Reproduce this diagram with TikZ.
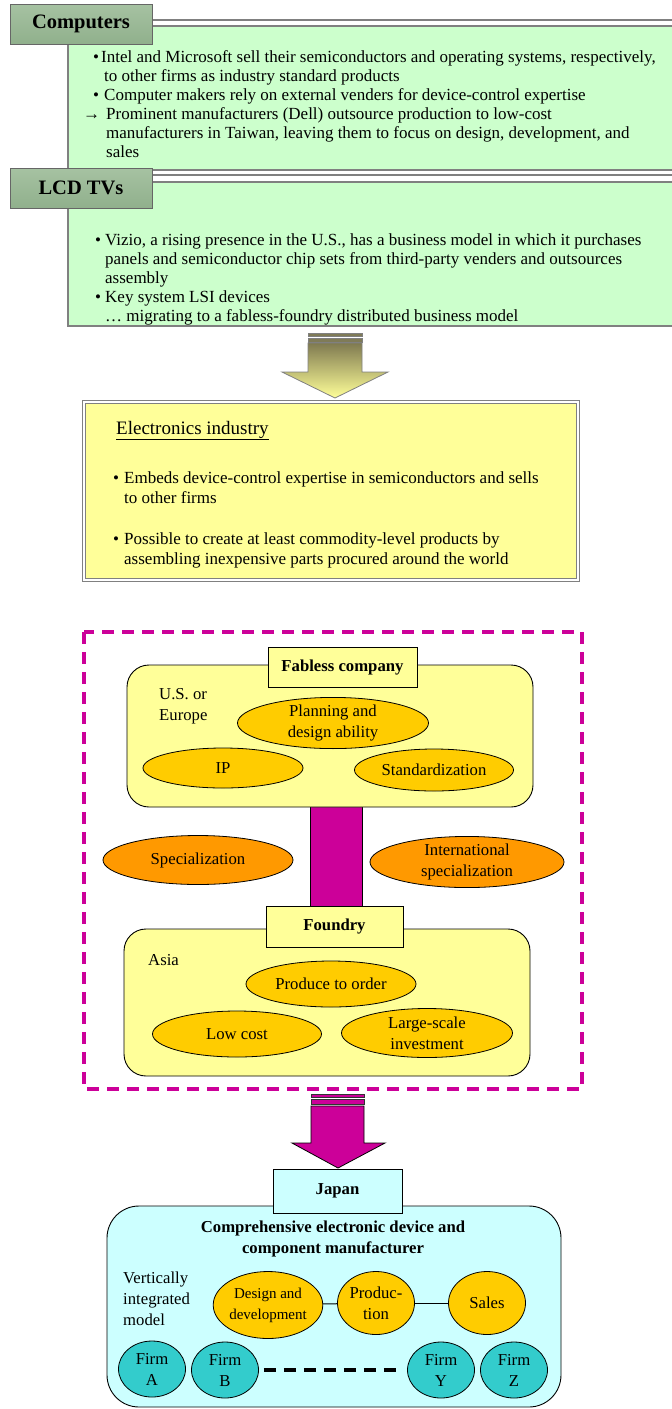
\documentclass[tikz,border=0pt]{standalone}
\usepackage{fontspec}
\setmainfont{Liberation Serif}
\usetikzlibrary{shapes.geometric}
\definecolor{boxgreen}{HTML}{CCFFCC}
\definecolor{lyellow}{HTML}{FFFF99}
\definecolor{gold}{HTML}{FFCC00}
\definecolor{orng}{HTML}{FF9900}
\definecolor{mag}{HTML}{CC0099}
\definecolor{lcyan}{HTML}{CCFFFF}
\definecolor{tealc}{HTML}{33CCCC}
\definecolor{olivec}{HTML}{7F7A50}
\definecolor{hdrtop}{HTML}{A6C2A2}
\definecolor{hdrmid}{HTML}{E0FCD8}
\definecolor{hdrbot}{HTML}{90B08C}
\newcommand{\tl}[1]{\begin{tabular}[t]{@{}l@{}}#1\end{tabular}}
\begin{document}
\begin{tikzpicture}[x=1pt,y=-1pt,
  txt/.style={anchor=base west, inner sep=0pt, font=\fontsize{17}{19}\selectfont},
  etxt/.style={anchor=base west, inner sep=0pt, font=\fontsize{17}{20.5}\selectfont},
  ptxt/.style={anchor=base west, inner sep=0pt, font=\fontsize{16.7}{21}\selectfont},
  hdrtxt/.style={inner sep=0pt, font=\bfseries\fontsize{20.5}{24}\selectfont},
  hdrshade/.style={top color=hdrtop, middle color=hdrmid, bottom color=hdrbot, draw=gray!80!black, line width=0.8pt},
  boxborder/.style={draw=gray, line width=1.2pt},
  ell/.style={ellipse, draw=black, line width=0.8pt, inner sep=0pt, align=center, font=\fontsize{16.7}{21}\selectfont},
  lbl/.style={rectangle, draw=black, line width=0.9pt, inner sep=0pt, font=\bfseries\fontsize{16.7}{21}\selectfont},
  rbox/.style={draw=black, line width=0.9pt, rounded corners=22pt},
]
\useasboundingbox (0,0) rectangle (672,1409);
\fill[white] (0,0) rectangle (672,1409);

% ---------- Computers ----------
\draw[boxborder, fill=boxgreen] (68,20) rectangle (673,170);
\draw[boxborder, fill=white] (152,20) rectangle (673,26);
\shadedraw[hdrshade] (10,4) rectangle (152,44);
\node[hdrtxt] (hcomp) at (81,24) {Computers};
\node[txt] (c1b) at (93,62) {•};
\node[txt] (c1) at (101,62) {\tl{Intel and Microsoft sell their semiconductors and operating systems, respectively,\\\hspace{3pt}to other firms as industry standard products}};
\node[txt] (c2b) at (93,100) {•};
\node[txt] (c2) at (104,100) {Computer makers rely on external venders for device-control expertise};
\node[txt, font=\bfseries\fontsize{17}{19}\selectfont] (c3b) at (83,119) {→};
\node[txt] (c3) at (106,119) {\tl{Prominent manufacturers (Dell) outsource production to low-cost\\manufacturers in Taiwan, leaving them to focus on design, development, and\\sales}};

% ---------- LCD TVs ----------
\draw[boxborder, fill=boxgreen] (68,175) rectangle (673,326);
\draw[boxborder, fill=white] (152,175) rectangle (673,182);
\shadedraw[hdrshade] (10,168) rectangle (152,208);
\node[hdrtxt] (hlcd) at (81,188) {LCD TVs};
\node[txt] (l1b) at (95,245) {•};
\node[txt] (l1) at (105,245) {\tl{Vizio, a rising presence in the U.S., has a business model in which it purchases\\panels and semiconductor chip sets from third-party venders and outsources\\assembly}};
\node[txt] (l2b) at (95,302) {•};
\node[txt] (l2) at (105,302) {\tl{Key system LSI devices\\… migrating to a fabless-foundry distributed business model}};

% ---------- yellow block arrow ----------
\fill[olivec!85!gray, draw=gray] (308,333) rectangle (362,336);
\fill[olivec!85!gray, draw=gray] (308,338) rectangle (362,342);
\shadedraw[top color=olivec, bottom color=lyellow, draw=gray, line width=0.8pt]
  (308,343) -- (362,343) -- (362,372) -- (388,372) -- (335,398) -- (282,372) -- (308,372) -- cycle;

% ---------- Electronics industry ----------
\draw[draw=gray, line width=0.8pt, double=white, double distance=1.5pt, fill=lyellow] (84,402) rectangle (578,580);
\node[txt, font=\fontsize{19}{22}\selectfont] (eti) at (116,434) {\underline{Electronics industry}};
\node[etxt] (e1b) at (113,483) {•};
\node[etxt] (e1) at (124,483) {\tl{Embeds device-control expertise in semiconductors and sells\\to other firms}};
\node[etxt] (e2b) at (113,544) {•};
\node[etxt] (e2) at (124,544) {\tl{Possible to create at least commodity-level products by\\assembling inexpensive parts procured around the world}};

% ---------- Fabless / Foundry ----------
\draw[mag, line width=4pt, dash pattern=on 12pt off 8pt] (84,632) rectangle (582,1089);
\draw[fill=mag, draw=black, line width=0.8pt] (310,800) rectangle (362,912);
\draw[rbox, fill=lyellow] (127,665) rectangle (533,807);
\node[lbl, fill=lyellow, minimum width=149pt, minimum height=40pt] (fab) at (342.5,667) {Fabless company};
\node[ptxt] (use) at (159,699) {\tl{U.S. or\\Europe}};
\node[ell, fill=gold, minimum width=191pt, minimum height=50pt] (plan) at (333,723) {Planning and\\design ability};
\node[ell, fill=gold, minimum width=160pt, minimum height=40pt] (ip) at (223,768) {IP};
\node[ell, fill=gold, minimum width=159pt, minimum height=42pt] (std) at (434,770) {Standardization};

\node[ell, fill=orng, minimum width=190pt, minimum height=49pt] (spec) at (198,860) {Specialization};
\node[ell, fill=orng, minimum width=194pt, minimum height=50pt] (ispec) at (467,862) {International\\specialization};

\draw[rbox, fill=lyellow] (124,929) rectangle (530,1076);
\node[lbl, fill=lyellow, minimum width=137pt, minimum height=41pt] (fdy) at (334.5,926.5) {Foundry};
\node[ptxt] (asia) at (148,965) {Asia};
\node[ell, fill=gold, minimum width=170pt, minimum height=46pt] (pto) at (331,984) {Produce to order};
\node[ell, fill=gold, minimum width=169pt, minimum height=46pt] (low) at (237,1034) {Low cost};
\node[ell, fill=gold, minimum width=171pt, minimum height=49pt] (lsi) at (427,1033) {Large-scale\\investment};

% ---------- magenta block arrow ----------
\draw[fill=mag, draw=black!80, line width=0.8pt] (311,1094) rectangle (364,1097);
\draw[fill=mag, draw=black!80, line width=0.8pt] (311,1099) rectangle (364,1104);
\draw[fill=mag, draw=black, line width=0.8pt]
  (311,1106) -- (364,1106) -- (364,1143) -- (385,1143) -- (338,1168) -- (292,1143) -- (311,1143) -- cycle;

% ---------- Japan ----------
\draw[rbox, rounded corners=32pt, fill=lcyan] (107,1206) rectangle (561,1407);
\node[lbl, fill=lcyan, minimum width=129pt, minimum height=44pt] (jp) at (337.5,1191) {Japan};
\node[inner sep=0pt, align=center, font=\bfseries\fontsize{16.7}{21}\selectfont] (cedc) at (333,1238.5) {Comprehensive electronic device and\\component manufacturer};
\node[ptxt] (vim) at (123,1283) {\tl{Vertically\\integrated\\model}};
\node[ell, fill=gold, minimum width=81pt, minimum height=67pt, font=\fontsize{15}{21}\selectfont] (dd) at (268,1305) {Design and\\development};
\node[ell, fill=gold, minimum width=77pt, minimum height=63pt] (pr) at (376,1303) {Produc-\\tion};
\node[ell, fill=gold, minimum width=77pt, minimum height=63pt] (sa) at (487,1303) {Sales};
\draw[line width=1pt] (dd) -- (pr);
\draw[line width=1pt] (pr) -- (sa);
\node[ell, fill=tealc, minimum width=67pt, minimum height=56pt] (fa) at (152,1369) {Firm\\A};
\node[ell, fill=tealc, minimum width=67pt, minimum height=56pt] (fb) at (225,1370) {Firm\\B};
\node[ell, fill=tealc, minimum width=67pt, minimum height=56pt] (fy) at (441,1370) {Firm\\Y};
\node[ell, fill=tealc, minimum width=67pt, minimum height=56pt] (fz) at (514,1370) {Firm\\Z};
\draw[line width=3.5pt, dash pattern=on 12pt off 8pt, shorten <=5pt, shorten >=5pt] (fb) -- (fy);
\end{tikzpicture}
\end{document}
